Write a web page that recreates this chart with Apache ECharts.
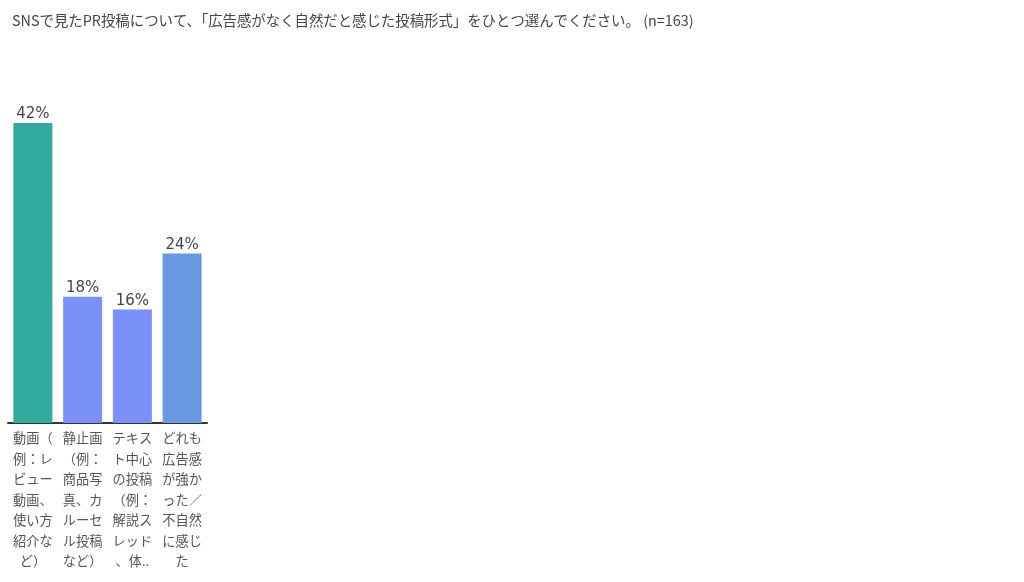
<!DOCTYPE html>
<html>
<head>
<meta charset="utf-8">
<script src="https://cdn.jsdelivr.net/npm/echarts@6/dist/echarts.min.js"></script>
<style>
  html, body { margin: 0; padding: 0; background: #fff; }
  #chart { width: 1024px; height: 582px; }
</style>
</head>
<body>
<div id="chart"></div>
<script>
const titleText = "SNSで見たPR投稿について、「広告感がなく自然だと感じた投稿形式」をひとつ選んでください。 (n=163)";

const categories = [
  "動画（例：レビュー動画、使い方紹介など）",
  "静止画（例：商品写真、カルーセル投稿など）",
  "テキスト中心の投稿（例：解説スレッド、体験談など）",
  "どれも広告感が強かった／不自然に感じた",
];
// percent of respondents (69, 29, 26, 39 of 163)
const values = [42.3, 17.8, 16.0, 23.9];
const barColors = ["#32ab9e", "#7b91fa", "#7b91fa", "#6898e0"];

// break a label into 3-char lines, max 7 lines
function wrapLabel(s) {
  const chars = Array.from(s);
  let lines = [];
  for (let i = 0; i < chars.length; i += 3) {
    lines.push(chars.slice(i, i + 3).join(""));
  }
  if (lines.length > 7) {
    lines = lines.slice(0, 7);
    lines[6] = Array.from(lines[6]).slice(0, 2).join("") + "..";
  }
  return lines.join("\n");
}

const chart = echarts.init(document.getElementById("chart"));

chart.setOption({
  backgroundColor: "#fff",
  animation: false,
  title: {
    text: titleText,
    left: 7,
    top: 8,
    textStyle: {
      fontFamily: "Noto Sans CJK JP",
      fontSize: 14.4,
      fontWeight: "normal",
      color: "#444",
    },
  },
  grid: {
    left: 8, width: 199, top: 123, bottom: 159,
    containLabel: false,
    outerBoundsMode: "none",
  },
  xAxis: {
    type: "category",
    data: categories,
    axisLine: { lineStyle: { color: "#333", width: 2 } },
    axisTick: { show: false },
    axisLabel: {
      interval: 0,
      margin: 5,
      fontFamily: "Noto Sans CJK JP",
      fontSize: 13.2,
      lineHeight: 20.5,
      color: "#555",
      formatter: (v) => wrapLabel(v),
    },
  },
  yAxis: {
    type: "value",
    min: 0,
    max: "dataMax",
    show: false,
    splitLine: { show: false },
  },
  series: [
    {
      type: "bar",
      barWidth: 39,
      data: values.map((v, i) => ({ value: v, itemStyle: { color: barColors[i] } })),
      label: {
        show: true,
        position: "top",
        distance: 1,
        fontFamily: "DejaVu Sans",
        fontSize: 15,
        color: "#444",
        formatter: (p) => Math.round(p.value) + "%",
      },
    },
  ],
});
</script>
</body>
</html>
